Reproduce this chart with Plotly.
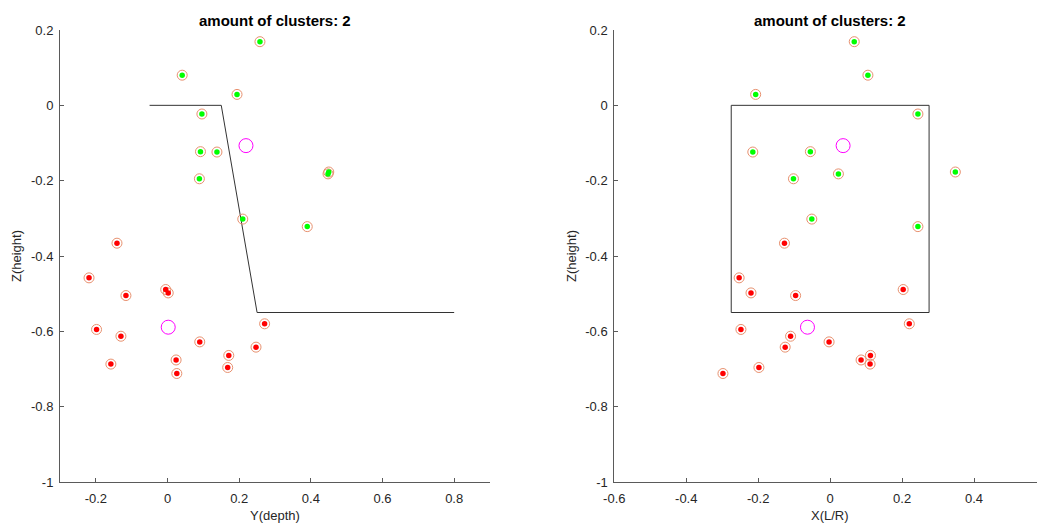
import plotly.graph_objects as go

# Cluster 1 (green): coordinates X (left/right), Y (depth), Z (height)
green_x = [0.067, 0.105, -0.207, 0.244, -0.055, -0.215, -0.102, 0.348, 0.023, -0.051, 0.244]
green_y = [0.258, 0.041, 0.194, 0.096, 0.092, 0.138, 0.089, 0.450, 0.448, 0.210, 0.390]
green_z = [0.169, 0.080, 0.029, -0.023, -0.123, -0.124, -0.195, -0.177, -0.182, -0.302, -0.322]

# Cluster 2 (red)
red_x = [-0.127, -0.253, 0.203, -0.220, -0.096, 0.220, -0.248, -0.110, -0.003, -0.125,
         0.112, 0.086, 0.111, -0.198, -0.298]
red_y = [-0.141, -0.219, -0.005, 0.002, -0.116, 0.271, -0.198, -0.130, 0.090, 0.247,
         0.171, 0.024, -0.158, 0.168, 0.026]
red_z = [-0.366, -0.458, -0.489, -0.498, -0.505, -0.580, -0.595, -0.613, -0.628, -0.642,
         -0.664, -0.676, -0.687, -0.696, -0.712]

# Cluster centroids (x, y, z)
centroid_x = [0.036, -0.063]
centroid_y = [0.219, 0.002]
centroid_z = [-0.107, -0.589]

# Boundary outline in the side view (Y, Z) and front view (X, Z)
side_y = [-0.05, 0.15, 0.25, 0.80]
side_z = [0.0, 0.0, -0.55, -0.55]
front_x = [-0.275, 0.275, 0.275, -0.275, -0.275]
front_z = [0.0, 0.0, -0.55, -0.55, 0.0]

title_text = "amount of clusters: 2"
y_ticks = [0.2, 0, -0.2, -0.4, -0.6, -0.8, -1]
y_ticktext = ["0.2", "0", "-0.2", "-0.4", "-0.6", "-0.8", "-1"]
x1_ticks = [-0.2, 0, 0.2, 0.4, 0.6, 0.8]
x1_ticktext = ["-0.2", "0", "0.2", "0.4", "0.6", "0.8"]
x2_ticks = [-0.6, -0.4, -0.2, 0, 0.2, 0.4]
x2_ticktext = ["-0.6", "-0.4", "-0.2", "0", "0.2", "0.4"]

RING = "#e8916f"
AXIS = "#5a5a5a"
TXT = "#262626"
FONT = "Liberation Sans, Arial, Helvetica, sans-serif"

fig = go.Figure()


def add_panel(xa, ya, gx, rx, cx, bx, bz):
    # boundary line
    fig.add_trace(go.Scatter(x=bx, y=bz, mode="lines", xaxis=xa, yaxis=ya,
                             line=dict(color="#333333", width=1), hoverinfo="skip"))
    for px, pz, col in ((gx, green_z, "#00ff00"), (rx, red_z, "#ff0000")):
        fig.add_trace(go.Scatter(x=px, y=pz, mode="markers", xaxis=xa, yaxis=ya,
                                 marker=dict(symbol="circle-open", size=10, color=RING,
                                             line=dict(width=1, color=RING))))
        fig.add_trace(go.Scatter(x=px, y=pz, mode="markers", xaxis=xa, yaxis=ya,
                                 marker=dict(symbol="circle", size=5.5, color=col,
                                             line=dict(width=0))))
    fig.add_trace(go.Scatter(x=cx, y=centroid_z, mode="markers", xaxis=xa, yaxis=ya,
                             marker=dict(symbol="circle-open", size=14, color="#ff00ff",
                                         line=dict(width=1, color="#ff00ff"))))


add_panel("x", "y", green_y, red_y, centroid_y, side_y, side_z)
add_panel("x2", "y2", green_x, red_x, centroid_x, front_x, front_z)

W, H = 1037, 524
ML, MR, MT, MB = 60, 0, 30, 42
PW = W - ML - MR
PH = H - MT - MB


def px_x(p):
    return (p - ML) / PW


def px_y(p):
    return 1 - (p - MT) / PH


axis_common = dict(showgrid=False, zeroline=False, showline=True, linecolor=AXIS,
                   linewidth=1, ticks="inside", ticklen=4, tickcolor=AXIS, tickwidth=1,
                   mirror=False, tickfont=dict(family=FONT, size=13, color=TXT))

fig.update_layout(
    width=W, height=H,
    margin=dict(l=ML, r=MR, t=MT, b=MB, pad=0),
    paper_bgcolor="white", plot_bgcolor="white",
    showlegend=False,
    xaxis=dict(domain=[0, px_x(490)], range=[-0.3, 0.9], tickvals=x1_ticks,
               ticktext=x1_ticktext, anchor="y", ticklabelstandoff=4, **axis_common),
    yaxis=dict(domain=[0, 1], range=[-1, 0.2], tickvals=y_ticks, ticktext=y_ticktext,
               anchor="x", ticklabelstandoff=3, **axis_common),
    xaxis2=dict(domain=[px_x(614.3), 1], range=[-0.6, 0.575], tickvals=x2_ticks,
                ticktext=x2_ticktext, anchor="y2", ticklabelstandoff=4, **axis_common),
    yaxis2=dict(domain=[0, 1], range=[-1, 0.2], tickvals=y_ticks, ticktext=y_ticktext,
                anchor="x2", ticklabelstandoff=3, **axis_common),
)


def label(text, xref, x, y, size=13, color=TXT, angle=0):
    return dict(text=text, xref=xref, yref="paper", x=x, y=y, xanchor="center",
                yanchor="middle", textangle=angle, showarrow=False,
                font=dict(family=FONT, size=size, color=color))


ann = [
    # panel titles
    label("<b>" + title_text + "</b>", "paper", px_x(275), px_y(20), size=15, color="#000000"),
    label("<b>" + title_text + "</b>", "x2", 0, px_y(20), size=15, color="#000000"),
    # axis labels
    label("Y(depth)", "paper", px_x(275), px_y(515)),
    label("X(L/R)", "x2", 0, px_y(515)),
    label("Z(height)", "paper", px_x(16), px_y(256), angle=-90),
    label("Z(height)", "paper", px_x(571), px_y(256), angle=-90),
]
fig.update_layout(annotations=ann)

fig.write_html("out.html")
